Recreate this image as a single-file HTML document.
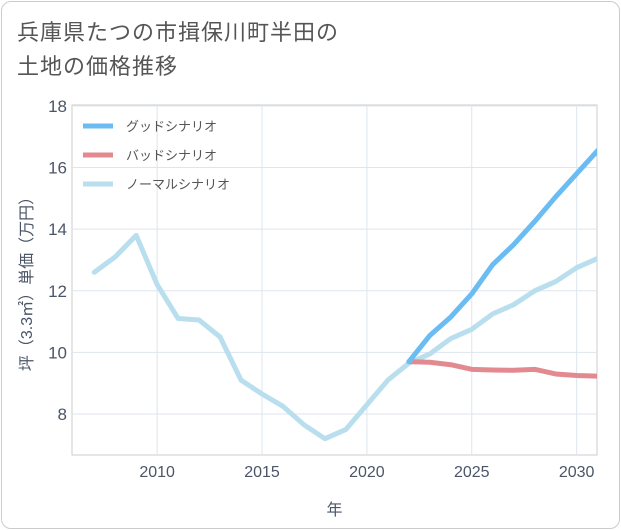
<!DOCTYPE html>
<html><head><meta charset="utf-8"><style>
body{margin:0;background:#fff;}
#wrap{position:relative;width:621px;height:530px;font-family:"Liberation Sans","Noto Sans CJK JP",sans-serif;}
#card{position:absolute;left:1px;top:1px;width:617px;height:526px;border:1px solid #ccc;border-radius:10px;background:#fff;}
#title{position:absolute;left:17px;top:16px;font-size:22px;line-height:34px;color:#555;letter-spacing:1px;}
</style></head><body>
<div id="wrap">
<div id="card"></div>
<div id="title">兵庫県たつの市揖保川町半田の<br>土地の価格推移</div>
<svg id="chart" width="621" height="530" style="position:absolute;left:0;top:0"><defs><clipPath id="pc"><rect x="72" y="105" width="525" height="350"/></clipPath></defs></svg>
</div>
<script>
const years=[2007,2008,2009,2010,2011,2012,2013,2014,2015,2016,2017,2018,2019,2020,2021,2022,2023,2024,2025,2026,2027,2028,2029,2030,2031];
const normalValues=[12.6,13.1,13.8,12.2,11.1,11.05,10.5,9.1,8.65,8.25,7.65,7.2,7.5,8.3,9.1,9.65,9.95,10.45,10.75,11.25,11.55,12.0,12.3,12.75,13.05];
const futureYears=[2022,2023,2024,2025,2026,2027,2028,2029,2030,2031];
const goodValues=[9.7,10.55,11.15,11.9,12.85,13.5,14.25,15.05,15.8,16.55];
const badValues=[9.7,9.68,9.6,9.45,9.43,9.42,9.45,9.3,9.25,9.23];
const xTicks=[2010,2015,2020,2025,2030];
const yTicks=[8,10,12,14,16,18];
const NS="http://www.w3.org/2000/svg";
const svg=document.getElementById('chart');
const L=72,R=597,T=105,B=455;
const x0=2005.94,x1=2030.97,y0=6.67,y1=18.03;
const sx=v=>L+(v-x0)/(x1-x0)*(R-L);
const sy=v=>B-(v-y0)/(y1-y0)*(B-T);
function mk(tag,attrs){const e=document.createElementNS(NS,tag);for(const k in attrs)e.setAttribute(k,attrs[k]);svg.appendChild(e);return e;}
const bg=mk('rect',{x:L,y:T,width:R-L,height:B-T,fill:'#fff',stroke:'#ccc'});


xTicks.forEach(t=>{
 const g=mk('line',{x1:sx(t),x2:sx(t),y1:T,y2:B,stroke:'#dde5ee'});
 
 
 const tx=mk('text',{x:sx(t),y:B+22,'text-anchor':'middle','font-size':'16',fill:'#4a5568'});
 tx.textContent=t;
 
 
});
yTicks.forEach(t=>{
 const g=mk('line',{x1:L,x2:R,y1:sy(t),y2:sy(t),stroke:'#dde5ee'});
 
 
 const tx=mk('text',{x:L-5,y:sy(t)+6,'text-anchor':'end','font-size':'17',fill:'#4a5568'});
 tx.textContent=t;
 
 
});
const xt=mk('text',{x:(L+R)/2,y:515,'text-anchor':'middle','font-size':'16',fill:'#4a5568'});
xt.textContent='年';


const yt=mk('text',{x:0,y:0,'text-anchor':'middle','font-size':'16',fill:'#4a5568',transform:`translate(32,${(T+B)/2}) rotate(-90)`});
yt.textContent='坪（3.3㎡）単価（万円）';


function line(xs,ys,color,name){
 const p=mk('polyline',{points:xs.map((x,i)=>sx(x)+','+sy(ys[i])).join(' '),fill:'none',stroke:color,'stroke-width':'5','stroke-linejoin':'round','stroke-linecap':'round','clip-path':'url(#pc)'});
 
 
}
line(years,normalValues,'#b9dfee','normal-scenario-line');
line(futureYears,badValues,'#e28a90','bad-scenario-line');
line(futureYears,goodValues,'#6bbcf2','good-scenario-line');
[['グッドシナリオ','#6bbcf2'],['バッドシナリオ','#e28a90'],['ノーマルシナリオ','#b9dfee']].forEach((d,i)=>{
 const y=126+i*29;
 const l=mk('line',{x1:83,x2:113,y1:y,y2:y,stroke:d[1],'stroke-width':'5'});
 
 
 const t=mk('text',{x:126,y:y+5,'font-size':'13',fill:'#555'});
 t.textContent=d[0];
 
 
});
</script>
</body></html>
